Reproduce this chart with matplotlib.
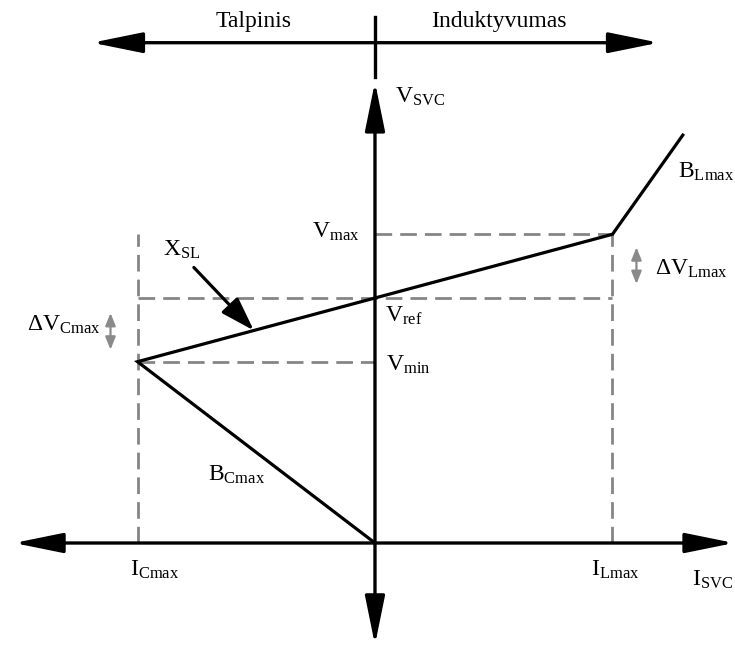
import matplotlib
matplotlib.use("Agg")
import matplotlib.pyplot as plt
from matplotlib import transforms

plt.rcParams["font.family"] = ["Liberation Serif", "DejaVu Serif"]
plt.rcParams["mathtext.fontset"] = "custom"
plt.rcParams["mathtext.rm"] = "Liberation Serif"
plt.rcParams["mathtext.it"] = "Liberation Serif:italic"
plt.rcParams["mathtext.bf"] = "Liberation Serif:bold"

# SVC operating limits (drawing units, V_ref = 1)
I_CMAX = -1.0
I_LMAX = 1.0
V_REF = 1.0
V_MAX = 1.26
V_MIN = 0.74

# V-I characteristic: capacitive limit, control slope through V_ref, inductive limit
char_I = [0.0, I_CMAX, I_LMAX, 1.30]
char_V = [0.0, V_MIN, V_MAX, 1.67]

# point on the control slope pointed at by the X_SL arrow
XSL_I = -0.51

region_labels = ["Talpinis", "Induktyvumas"]

FS = 17
BLACK = "black"
GRAY = "#858585"
LW = 2.3

fig = plt.figure(figsize=(7.35, 6.46), dpi=100)
ax = fig.add_axes([0, 0, 1, 1])
ax.set_xlim(-1.579, 1.516)
ax.set_ylim(-0.4204, 2.2163)
ax.axis("off")


def arrow(start, end, style, hl, hw, lw=LW, color=BLACK, coords="data", z=3):
    ax.annotate("", xy=end, xytext=start, xycoords=coords, textcoords=coords,
                arrowprops=dict(arrowstyle=f"{style},head_length={hl},head_width={hw}",
                                lw=lw, color=color, shrinkA=0, shrinkB=0,
                                mutation_scale=1),
                zorder=z)


def label(text, xy, off, ha="left", va="baseline"):
    ax.annotate(text, xy=xy, xytext=off, textcoords="offset pixels",
                ha=ha, va=va, fontsize=FS, color=BLACK)


# dashed guide lines
dash = dict(color=GRAY, lw=2.0, linestyle=(0, (6.0, 2.9)), zorder=1)
ax.plot([I_CMAX, I_CMAX], [0, V_MAX], **dash)
ax.plot([I_LMAX, I_LMAX], [0, V_MAX], **dash)
ax.plot([I_CMAX, I_LMAX], [V_REF, V_REF], **dash)
ax.plot([0, I_LMAX], [V_MAX, V_MAX], **dash)
ax.plot([I_CMAX, 0], [V_MIN, V_MIN], **dash)

# axes
arrow((-1.52, 0), (1.512, 0), "<|-|>", 30, 6.1, lw=2.4)
arrow((0, -0.416), (0, 1.882), "<|-|>", 30, 6.1, lw=2.4)

# capacitive / inductive direction bar
TOP_V = 2.042
arrow((-1.1916, TOP_V), (1.1958, TOP_V), "<|-|>", 31, 6.3, lw=2.4)
ax.plot([0, 0], [1.902, 2.147], color=BLACK, lw=2.4)

# characteristic
ax.plot(char_I, char_V, color=BLACK, lw=LW, solid_joinstyle="miter",
        solid_capstyle="butt", zorder=4)

# slope marker arrow
v_xsl = V_MIN + (XSL_I - I_CMAX) / (I_LMAX - I_CMAX) * (V_MAX - V_MIN)
ax.annotate("", xy=(XSL_I, v_xsl), xytext=(-60, 63), textcoords="offset pixels",
            arrowprops=dict(arrowstyle="-|>,head_length=21,head_width=6.8",
                            lw=LW, color=BLACK, shrinkA=0, shrinkB=0,
                            mutation_scale=1), zorder=5)

# voltage deviation markers
left_tr = transforms.offset_copy(ax.transData, fig=fig, x=-27, y=0, units="dots")
right_tr = transforms.offset_copy(ax.transData, fig=fig, x=24, y=0, units="dots")
arrow((I_CMAX, V_MIN + 0.049), (I_CMAX, V_REF - 0.061), "<|-|>", 7.5, 3.0,
      lw=1.6, color="#8a8a8a", coords=left_tr)
arrow((I_LMAX, V_REF + 0.057), (I_LMAX, V_MAX - 0.053), "<|-|>", 7.5, 3.0,
      lw=1.6, color="#8a8a8a", coords=right_tr)

# labels
label(region_labels[0], (0, TOP_V), (-121, 15.7), ha="center")
label(region_labels[1], (0, TOP_V), (124, 15.7), ha="center")
label(r"$\mathrm{V}_{\mathrm{SVC}}$", (0, 1.882), (20, -21))
label(r"$\mathrm{B}_{\mathrm{Lmax}}$", (char_I[-1], char_V[-1]), (-6, -44))
label(r"$\mathrm{V}_{\mathrm{max}}$", (0, V_MAX), (-15, -3), ha="right")
label(r"$\mathrm{X}_{\mathrm{SL}}$", (XSL_I, v_xsl), (-91, 75))
label(r"$\mathrm{\Delta V}_{\mathrm{Cmax}}$", (I_CMAX, V_REF), (-37, -33), ha="right")
label(r"$\mathrm{\Delta V}_{\mathrm{Lmax}}$", (I_LMAX, V_MAX), (43, -40))
label(r"$\mathrm{V}_{\mathrm{ref}}$", (0, V_REF), (10, -24))
label(r"$\mathrm{V}_{\mathrm{min}}$", (0, V_MIN), (11, -9))
label(r"$\mathrm{B}_{\mathrm{Cmax}}$", (I_CMAX, V_MIN), (70, -119))
label(r"$\mathrm{I}_{\mathrm{Cmax}}$", (I_CMAX, 0), (-8, -33))
label(r"$\mathrm{I}_{\mathrm{Lmax}}$", (I_LMAX, 0), (-21, -33))
label(r"$\mathrm{I}_{\mathrm{SVC}}$", (I_LMAX, 0), (80, -43))

fig.savefig("out.png", dpi=100, facecolor="white")
